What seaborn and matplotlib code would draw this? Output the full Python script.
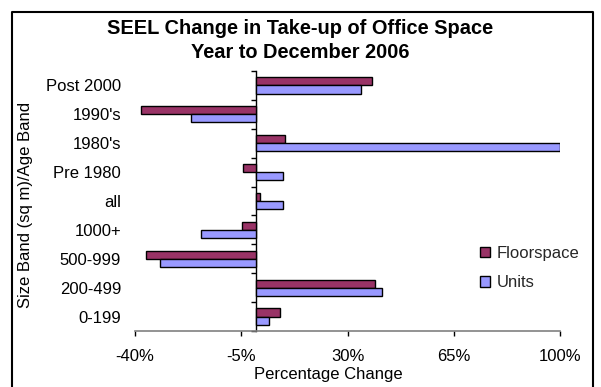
import matplotlib
matplotlib.use("Agg")
import matplotlib.pyplot as plt
from matplotlib.lines import Line2D
import seaborn as sns
import pandas as pd

# Size bands / age bands, top to bottom
bands = ["Post 2000", "1990's", "1980's", "Pre 1980", "all",
         "1000+", "500-999", "200-499", "0-199"]
# Percentage change year to December 2006
floorspace = [38.0, -38.0, 9.3, -4.5, 1.1, -4.9, -36.5, 39.2, 7.8]
units = [34.5, -21.5, 100.0, 8.8, 8.8, -18.4, -31.9, 41.3, 4.1]
series = ["Floorspace", "Units"]
x_ticks = [-40, -5, 30, 65, 100]
x_labels = [f"{v}%" for v in x_ticks]

df = pd.DataFrame({
    "band": bands * 2,
    "series": [series[0]] * len(bands) + [series[1]] * len(bands),
    "change": floorspace + units,
})

sns.set_theme(style="white")
plt.rcParams["font.family"] = ["Liberation Sans", "DejaVu Sans"]

W, H = 601, 387
fig = plt.figure(figsize=(W / 100, H / 100), dpi=100)
fig.patch.set_facecolor("white")

# plot area in pixels: x 135..560, y 71..331
ax = fig.add_axes([135 / W, 1 - 331 / H, 425 / W, 260 / H])

sns.barplot(data=df, x="change", y="band", hue="series",
            order=bands, hue_order=series,
            palette=["#993366", "#9999FF"], saturation=1,
            width=0.56, edgecolor="black", linewidth=1.0,
            errorbar=None, orient="h", ax=ax)

xmin, xmax = -40, 100
ax.set_xlim(xmin, xmax)
ax.set_ylim(len(bands) - 0.5, -0.5)
ax.set_facecolor("white")

for side in ("left", "top", "right"):
    ax.spines[side].set_visible(False)
ax.spines["bottom"].set_color("#808080")
ax.spines["bottom"].set_linewidth(1.2)

ax.set_xticks(x_ticks)
ax.set_xticklabels(x_labels)
ax.tick_params(axis="x", bottom=True, direction="out", length=3.5,
               width=1, color="black", labelsize=12, pad=9.5, labelcolor="black")
ax.set_yticks(range(len(bands)))
ax.set_yticklabels(bands)
ax.tick_params(axis="y", left=False, length=0, labelsize=12, pad=10,
               labelcolor="black")

# value axis crossing at zero with tick marks between bands
zero_pos = (0 - xmin) / (xmax - xmin)
sec = ax.secondary_yaxis(zero_pos)
sec.set_yticks([i - 0.5 for i in range(len(bands) + 1)])
sec.set_yticklabels([])
sec.tick_params(axis="y", left=True, direction="out", length=3.5,
                width=1, color="black")
for sp in sec.spines.values():
    sp.set_color("black")
    sp.set_linewidth(1.0)

ax.set_xlabel("Percentage Change", fontsize=12, color="black")
ax.xaxis.set_label_coords((328 - 135) / 425, (331 - 374) / 260)
ax.xaxis.label.set_va("center")
ax.set_ylabel("Size Band (sq m)/Age Band", fontsize=12, color="black")
ax.yaxis.set_label_coords((26 - 135) / 425, (331 - 205) / 260)
ax.yaxis.label.set_va("center")

leg = ax.legend(loc="upper left", bbox_to_anchor=(480 / W, 1 - 246 / H),
                bbox_transform=fig.transFigure, frameon=False, fontsize=12,
                handlelength=0.6, handleheight=0.6, handletextpad=0.4,
                labelspacing=0.85, borderpad=0, borderaxespad=0)
for h in leg.legend_handles:
    h.set_edgecolor("black")
    h.set_linewidth(1.0)

fig.text(300 / W, 1 - 40.5 / H,
         "SEEL Change in Take-up of Office Space\nYear to December 2006",
         ha="center", va="center", fontsize=14.4, fontweight="bold",
         linespacing=1.4, color="black")

# chart area border
fig.add_artist(Line2D([11.5 / W, 11.5 / W, 593 / W, 593 / W],
                      [0, 1 - 11.5 / H, 1 - 11.5 / H, 0],
                      transform=fig.transFigure, color="black", lw=1.5))

fig.savefig("out.png", dpi=100)
